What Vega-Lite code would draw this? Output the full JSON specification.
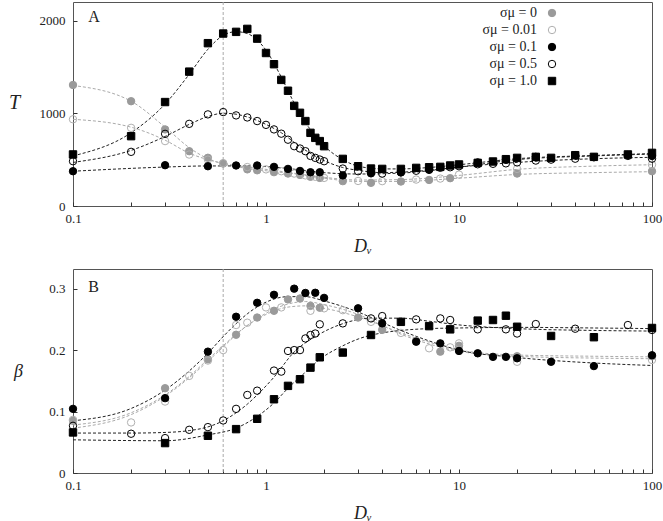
{
  "$schema": "https://vega.github.io/schema/vega-lite/v6.json",
  "background": "white",
  "padding": {"left": 7, "top": 1, "right": 2, "bottom": 4},
  "spacing": 12,
  "config": {
    "font": "Liberation Serif",
    "view": {"stroke": "#555555", "strokeWidth": 1},
    "axis": {
      "grid": false,
      "domain": false,
      "tickSize": -4,
      "tickColor": "#333333",
      "labelFont": "Liberation Serif",
      "labelFontSize": 13,
      "labelColor": "#222222",
      "titleFont": "Liberation Serif",
      "titleFontWeight": "normal",
      "titleFontStyle": "italic",
      "titleColor": "#222222"
    }
  },
  "resolve": {
    "scale": {"shape": "independent", "fill": "independent", "stroke": "independent", "color": "independent"},
    "legend": {"shape": "independent", "fill": "independent", "stroke": "independent", "color": "independent"}
  },
  "datasets": {
    "ptsA": [
      {"s": "σμ = 0", "D": 0.1, "v": 1305}, {"s": "σμ = 0", "D": 0.2, "v": 1130}, {"s": "σμ = 0", "D": 0.3, "v": 826},
      {"s": "σμ = 0", "D": 0.4, "v": 591}, {"s": "σμ = 0", "D": 0.5, "v": 520}, {"s": "σμ = 0", "D": 0.6, "v": 458},
      {"s": "σμ = 0", "D": 0.8, "v": 395}, {"s": "σμ = 0", "D": 0.9, "v": 385}, {"s": "σμ = 0", "D": 1.1, "v": 365},
      {"s": "σμ = 0", "D": 1.3, "v": 350}, {"s": "σμ = 0", "D": 1.5, "v": 335}, {"s": "σμ = 0", "D": 1.7, "v": 315},
      {"s": "σμ = 0", "D": 1.9, "v": 303}, {"s": "σμ = 0", "D": 2.5, "v": 268}, {"s": "σμ = 0", "D": 3.5, "v": 250},
      {"s": "σμ = 0", "D": 5, "v": 264}, {"s": "σμ = 0", "D": 7, "v": 281}, {"s": "σμ = 0", "D": 9, "v": 300},
      {"s": "σμ = 0", "D": 20, "v": 350}, {"s": "σμ = 0", "D": 100, "v": 375},

      {"s": "σμ = 0.01", "D": 0.1, "v": 935}, {"s": "σμ = 0.01", "D": 0.2, "v": 843}, {"s": "σμ = 0.01", "D": 0.3, "v": 700},
      {"s": "σμ = 0.01", "D": 0.4, "v": 555}, {"s": "σμ = 0.01", "D": 0.5, "v": 500}, {"s": "σμ = 0.01", "D": 0.6, "v": 462},
      {"s": "σμ = 0.01", "D": 0.8, "v": 420}, {"s": "σμ = 0.01", "D": 1.0, "v": 395}, {"s": "σμ = 0.01", "D": 1.2, "v": 375},
      {"s": "σμ = 0.01", "D": 1.4, "v": 350}, {"s": "σμ = 0.01", "D": 1.6, "v": 330}, {"s": "σμ = 0.01", "D": 1.8, "v": 315},
      {"s": "σμ = 0.01", "D": 2.0, "v": 303}, {"s": "σμ = 0.01", "D": 3, "v": 270}, {"s": "σμ = 0.01", "D": 4, "v": 268},
      {"s": "σμ = 0.01", "D": 6, "v": 285}, {"s": "σμ = 0.01", "D": 8, "v": 296}, {"s": "σμ = 0.01", "D": 10, "v": 339},
      {"s": "σμ = 0.01", "D": 20, "v": 400}, {"s": "σμ = 0.01", "D": 100, "v": 445},

      {"s": "σμ = 0.1", "D": 0.1, "v": 375}, {"s": "σμ = 0.1", "D": 0.3, "v": 440}, {"s": "σμ = 0.1", "D": 0.5, "v": 429},
      {"s": "σμ = 0.1", "D": 0.7, "v": 437}, {"s": "σμ = 0.1", "D": 0.9, "v": 437}, {"s": "σμ = 0.1", "D": 1.1, "v": 422},
      {"s": "σμ = 0.1", "D": 1.3, "v": 400}, {"s": "σμ = 0.1", "D": 1.5, "v": 378}, {"s": "σμ = 0.1", "D": 1.7, "v": 364},
      {"s": "σμ = 0.1", "D": 1.9, "v": 364}, {"s": "σμ = 0.1", "D": 2.5, "v": 330}, {"s": "σμ = 0.1", "D": 3.5, "v": 352},
      {"s": "σμ = 0.1", "D": 5, "v": 362}, {"s": "σμ = 0.1", "D": 7, "v": 390}, {"s": "σμ = 0.1", "D": 12.5, "v": 470},
      {"s": "σμ = 0.1", "D": 17.5, "v": 500}, {"s": "σμ = 0.1", "D": 25, "v": 530}, {"s": "σμ = 0.1", "D": 40, "v": 548},
      {"s": "σμ = 0.1", "D": 75, "v": 550}, {"s": "σμ = 0.1", "D": 100, "v": 540},

      {"s": "σμ = 0.5", "D": 0.1, "v": 483}, {"s": "σμ = 0.5", "D": 0.2, "v": 584}, {"s": "σμ = 0.5", "D": 0.3, "v": 778},
      {"s": "σμ = 0.5", "D": 0.4, "v": 886}, {"s": "σμ = 0.5", "D": 0.5, "v": 988}, {"s": "σμ = 0.5", "D": 0.6, "v": 1013},
      {"s": "σμ = 0.5", "D": 0.7, "v": 977}, {"s": "σμ = 0.5", "D": 0.8, "v": 955}, {"s": "σμ = 0.5", "D": 0.9, "v": 916},
      {"s": "σμ = 0.5", "D": 1.0, "v": 875}, {"s": "σμ = 0.5", "D": 1.1, "v": 826}, {"s": "σμ = 0.5", "D": 1.2, "v": 780},
      {"s": "σμ = 0.5", "D": 1.3, "v": 715}, {"s": "σμ = 0.5", "D": 1.4, "v": 645}, {"s": "σμ = 0.5", "D": 1.5, "v": 620},
      {"s": "σμ = 0.5", "D": 1.6, "v": 591}, {"s": "σμ = 0.5", "D": 1.7, "v": 540}, {"s": "σμ = 0.5", "D": 1.8, "v": 519},
      {"s": "σμ = 0.5", "D": 1.9, "v": 501}, {"s": "σμ = 0.5", "D": 2.0, "v": 483}, {"s": "σμ = 0.5", "D": 2.5, "v": 404},
      {"s": "σμ = 0.5", "D": 3.0, "v": 375}, {"s": "σμ = 0.5", "D": 3.5, "v": 362}, {"s": "σμ = 0.5", "D": 4, "v": 350},
      {"s": "σμ = 0.5", "D": 5, "v": 365}, {"s": "σμ = 0.5", "D": 6, "v": 380}, {"s": "σμ = 0.5", "D": 7, "v": 395},
      {"s": "σμ = 0.5", "D": 8, "v": 412}, {"s": "σμ = 0.5", "D": 9, "v": 418}, {"s": "σμ = 0.5", "D": 10, "v": 429},
      {"s": "σμ = 0.5", "D": 12.5, "v": 450}, {"s": "σμ = 0.5", "D": 15, "v": 455}, {"s": "σμ = 0.5", "D": 17.5, "v": 460},
      {"s": "σμ = 0.5", "D": 20, "v": 470}, {"s": "σμ = 0.5", "D": 25, "v": 490}, {"s": "σμ = 0.5", "D": 30, "v": 500},
      {"s": "σμ = 0.5", "D": 40, "v": 510}, {"s": "σμ = 0.5", "D": 50, "v": 525}, {"s": "σμ = 0.5", "D": 75, "v": 540},
      {"s": "σμ = 0.5", "D": 100, "v": 510},

      {"s": "σμ = 1.0", "D": 0.1, "v": 556}, {"s": "σμ = 1.0", "D": 0.2, "v": 753}, {"s": "σμ = 1.0", "D": 0.3, "v": 1121},
      {"s": "σμ = 1.0", "D": 0.4, "v": 1449}, {"s": "σμ = 1.0", "D": 0.5, "v": 1756}, {"s": "σμ = 1.0", "D": 0.6, "v": 1860},
      {"s": "σμ = 1.0", "D": 0.7, "v": 1878}, {"s": "σμ = 1.0", "D": 0.8, "v": 1910}, {"s": "σμ = 1.0", "D": 0.9, "v": 1805},
      {"s": "σμ = 1.0", "D": 1.0, "v": 1650}, {"s": "σμ = 1.0", "D": 1.1, "v": 1529}, {"s": "σμ = 1.0", "D": 1.2, "v": 1360},
      {"s": "σμ = 1.0", "D": 1.3, "v": 1243}, {"s": "σμ = 1.0", "D": 1.4, "v": 1080}, {"s": "σμ = 1.0", "D": 1.5, "v": 1005},
      {"s": "σμ = 1.0", "D": 1.6, "v": 916}, {"s": "σμ = 1.0", "D": 1.7, "v": 789}, {"s": "σμ = 1.0", "D": 1.8, "v": 735},
      {"s": "σμ = 1.0", "D": 1.9, "v": 700}, {"s": "σμ = 1.0", "D": 2.0, "v": 645}, {"s": "σμ = 1.0", "D": 2.5, "v": 508},
      {"s": "σμ = 1.0", "D": 3.0, "v": 429}, {"s": "σμ = 1.0", "D": 3.5, "v": 404}, {"s": "σμ = 1.0", "D": 4, "v": 400},
      {"s": "σμ = 1.0", "D": 5, "v": 400}, {"s": "σμ = 1.0", "D": 6, "v": 411}, {"s": "σμ = 1.0", "D": 7, "v": 418},
      {"s": "σμ = 1.0", "D": 8, "v": 422}, {"s": "σμ = 1.0", "D": 9, "v": 437}, {"s": "σμ = 1.0", "D": 10, "v": 448},
      {"s": "σμ = 1.0", "D": 12.5, "v": 465}, {"s": "σμ = 1.0", "D": 15, "v": 480}, {"s": "σμ = 1.0", "D": 17.5, "v": 505},
      {"s": "σμ = 1.0", "D": 20, "v": 519}, {"s": "σμ = 1.0", "D": 25, "v": 530}, {"s": "σμ = 1.0", "D": 30, "v": 519},
      {"s": "σμ = 1.0", "D": 40, "v": 548}, {"s": "σμ = 1.0", "D": 50, "v": 530}, {"s": "σμ = 1.0", "D": 75, "v": 556},
      {"s": "σμ = 1.0", "D": 100, "v": 573}
    ],
    "fitA": [
      {"c": "0", "D": 0.1, "v": 1300}, {"c": "0", "D": 0.2, "v": 1130}, {"c": "0", "D": 0.3, "v": 850}, {"c": "0", "D": 0.4, "v": 630},
      {"c": "0", "D": 0.5, "v": 510}, {"c": "0", "D": 0.6, "v": 455}, {"c": "0", "D": 0.8, "v": 405}, {"c": "0", "D": 1, "v": 380},
      {"c": "0", "D": 1.5, "v": 340}, {"c": "0", "D": 2, "v": 300}, {"c": "0", "D": 3, "v": 265}, {"c": "0", "D": 5, "v": 265},
      {"c": "0", "D": 10, "v": 300}, {"c": "0", "D": 20, "v": 340}, {"c": "0", "D": 50, "v": 360}, {"c": "0", "D": 100, "v": 370},

      {"c": "0.01", "D": 0.1, "v": 935}, {"c": "0.01", "D": 0.2, "v": 850}, {"c": "0.01", "D": 0.3, "v": 710}, {"c": "0.01", "D": 0.4, "v": 570},
      {"c": "0.01", "D": 0.5, "v": 500}, {"c": "0.01", "D": 0.6, "v": 460}, {"c": "0.01", "D": 0.8, "v": 420}, {"c": "0.01", "D": 1, "v": 395},
      {"c": "0.01", "D": 1.5, "v": 345}, {"c": "0.01", "D": 2, "v": 310}, {"c": "0.01", "D": 3, "v": 280}, {"c": "0.01", "D": 5, "v": 285},
      {"c": "0.01", "D": 10, "v": 330}, {"c": "0.01", "D": 20, "v": 395}, {"c": "0.01", "D": 50, "v": 430}, {"c": "0.01", "D": 100, "v": 445},

      {"c": "0.1", "D": 0.1, "v": 375}, {"c": "0.1", "D": 0.3, "v": 420}, {"c": "0.1", "D": 0.5, "v": 432}, {"c": "0.1", "D": 0.8, "v": 432},
      {"c": "0.1", "D": 1, "v": 425}, {"c": "0.1", "D": 1.5, "v": 390}, {"c": "0.1", "D": 2, "v": 360}, {"c": "0.1", "D": 3, "v": 345},
      {"c": "0.1", "D": 5, "v": 355}, {"c": "0.1", "D": 10, "v": 420}, {"c": "0.1", "D": 20, "v": 500}, {"c": "0.1", "D": 50, "v": 540},
      {"c": "0.1", "D": 100, "v": 560},

      {"c": "0.5", "D": 0.1, "v": 470}, {"c": "0.5", "D": 0.2, "v": 600}, {"c": "0.5", "D": 0.3, "v": 750}, {"c": "0.5", "D": 0.4, "v": 880},
      {"c": "0.5", "D": 0.5, "v": 965}, {"c": "0.5", "D": 0.6, "v": 1000}, {"c": "0.5", "D": 0.7, "v": 990}, {"c": "0.5", "D": 0.8, "v": 960},
      {"c": "0.5", "D": 1, "v": 880}, {"c": "0.5", "D": 1.2, "v": 790}, {"c": "0.5", "D": 1.5, "v": 640}, {"c": "0.5", "D": 2, "v": 490},
      {"c": "0.5", "D": 2.5, "v": 415}, {"c": "0.5", "D": 3, "v": 385}, {"c": "0.5", "D": 4, "v": 360}, {"c": "0.5", "D": 5, "v": 365},
      {"c": "0.5", "D": 7, "v": 385}, {"c": "0.5", "D": 10, "v": 420}, {"c": "0.5", "D": 20, "v": 470}, {"c": "0.5", "D": 50, "v": 510},
      {"c": "0.5", "D": 100, "v": 525},

      {"c": "1.0", "D": 0.1, "v": 540}, {"c": "1.0", "D": 0.2, "v": 790}, {"c": "1.0", "D": 0.3, "v": 1100}, {"c": "1.0", "D": 0.4, "v": 1420},
      {"c": "1.0", "D": 0.5, "v": 1690}, {"c": "1.0", "D": 0.6, "v": 1840}, {"c": "1.0", "D": 0.7, "v": 1880}, {"c": "1.0", "D": 0.8, "v": 1860},
      {"c": "1.0", "D": 0.9, "v": 1790}, {"c": "1.0", "D": 1, "v": 1680}, {"c": "1.0", "D": 1.2, "v": 1390}, {"c": "1.0", "D": 1.4, "v": 1110},
      {"c": "1.0", "D": 1.6, "v": 900}, {"c": "1.0", "D": 1.8, "v": 760}, {"c": "1.0", "D": 2, "v": 650}, {"c": "1.0", "D": 2.5, "v": 500},
      {"c": "1.0", "D": 3, "v": 430}, {"c": "1.0", "D": 4, "v": 400}, {"c": "1.0", "D": 5, "v": 400}, {"c": "1.0", "D": 7, "v": 415},
      {"c": "1.0", "D": 10, "v": 445}, {"c": "1.0", "D": 20, "v": 510}, {"c": "1.0", "D": 50, "v": 545}, {"c": "1.0", "D": 100, "v": 565}
    ],
    "ptsB": [
      {"s": "σμ = 0", "D": 0.1, "v": 0.085}, {"s": "σμ = 0", "D": 0.3, "v": 0.138}, {"s": "σμ = 0", "D": 0.5, "v": 0.185},
      {"s": "σμ = 0", "D": 0.7, "v": 0.225}, {"s": "σμ = 0", "D": 0.9, "v": 0.253}, {"s": "σμ = 0", "D": 1.1, "v": 0.264},
      {"s": "σμ = 0", "D": 1.3, "v": 0.2825}, {"s": "σμ = 0", "D": 1.5, "v": 0.284}, {"s": "σμ = 0", "D": 1.7, "v": 0.272},
      {"s": "σμ = 0", "D": 1.9, "v": 0.269}, {"s": "σμ = 0", "D": 3, "v": 0.253}, {"s": "σμ = 0", "D": 4, "v": 0.233},
      {"s": "σμ = 0", "D": 6, "v": 0.215}, {"s": "σμ = 0", "D": 8, "v": 0.1975}, {"s": "σμ = 0", "D": 10, "v": 0.207},
      {"s": "σμ = 0", "D": 20, "v": 0.19}, {"s": "σμ = 0", "D": 100, "v": 0.19},

      {"s": "σμ = 0.01", "D": 0.1, "v": 0.0866}, {"s": "σμ = 0.01", "D": 0.2, "v": 0.0823}, {"s": "σμ = 0.01", "D": 0.3, "v": 0.1163},
      {"s": "σμ = 0.01", "D": 0.4, "v": 0.158}, {"s": "σμ = 0.01", "D": 0.5, "v": 0.183}, {"s": "σμ = 0.01", "D": 0.6, "v": 0.2},
      {"s": "σμ = 0.01", "D": 0.7, "v": 0.2408}, {"s": "σμ = 0.01", "D": 0.8, "v": 0.2446}, {"s": "σμ = 0.01", "D": 1.0, "v": 0.2695},
      {"s": "σμ = 0.01", "D": 1.2, "v": 0.2695}, {"s": "σμ = 0.01", "D": 1.7, "v": 0.264}, {"s": "σμ = 0.01", "D": 2.0, "v": 0.268},
      {"s": "σμ = 0.01", "D": 2.5, "v": 0.265}, {"s": "σμ = 0.01", "D": 3.5, "v": 0.246}, {"s": "σμ = 0.01", "D": 5, "v": 0.228},
      {"s": "σμ = 0.01", "D": 7, "v": 0.203}, {"s": "σμ = 0.01", "D": 9, "v": 0.2045}, {"s": "σμ = 0.01", "D": 10, "v": 0.211},
      {"s": "σμ = 0.01", "D": 20, "v": 0.181}, {"s": "σμ = 0.01", "D": 100, "v": 0.184},

      {"s": "σμ = 0.1", "D": 0.1, "v": 0.1044}, {"s": "σμ = 0.1", "D": 0.3, "v": 0.1218}, {"s": "σμ = 0.1", "D": 0.5, "v": 0.1975},
      {"s": "σμ = 0.1", "D": 0.7, "v": 0.2543}, {"s": "σμ = 0.1", "D": 0.9, "v": 0.277}, {"s": "σμ = 0.1", "D": 1.1, "v": 0.29},
      {"s": "σμ = 0.1", "D": 1.4, "v": 0.3}, {"s": "σμ = 0.1", "D": 1.6, "v": 0.293}, {"s": "σμ = 0.1", "D": 1.8, "v": 0.2933},
      {"s": "σμ = 0.1", "D": 2.0, "v": 0.285}, {"s": "σμ = 0.1", "D": 3.0, "v": 0.268}, {"s": "σμ = 0.1", "D": 4, "v": 0.2435},
      {"s": "σμ = 0.1", "D": 6, "v": 0.2137}, {"s": "σμ = 0.1", "D": 8, "v": 0.211}, {"s": "σμ = 0.1", "D": 10, "v": 0.1986},
      {"s": "σμ = 0.1", "D": 12.5, "v": 0.1948}, {"s": "σμ = 0.1", "D": 15, "v": 0.189}, {"s": "σμ = 0.1", "D": 17.5, "v": 0.189},
      {"s": "σμ = 0.1", "D": 20, "v": 0.1867}, {"s": "σμ = 0.1", "D": 30, "v": 0.181}, {"s": "σμ = 0.1", "D": 50, "v": 0.174},
      {"s": "σμ = 0.1", "D": 100, "v": 0.1916},

      {"s": "σμ = 0.5", "D": 0.1, "v": 0.0768}, {"s": "σμ = 0.5", "D": 0.2, "v": 0.0639}, {"s": "σμ = 0.5", "D": 0.3, "v": 0.0568},
      {"s": "σμ = 0.5", "D": 0.4, "v": 0.0703}, {"s": "σμ = 0.5", "D": 0.5, "v": 0.0747}, {"s": "σμ = 0.5", "D": 0.6, "v": 0.0855},
      {"s": "σμ = 0.5", "D": 0.7, "v": 0.1044}, {"s": "σμ = 0.5", "D": 0.8, "v": 0.127}, {"s": "σμ = 0.5", "D": 0.9, "v": 0.134},
      {"s": "σμ = 0.5", "D": 1.1, "v": 0.1667}, {"s": "σμ = 0.5", "D": 1.2, "v": 0.165}, {"s": "σμ = 0.5", "D": 1.3, "v": 0.1986},
      {"s": "σμ = 0.5", "D": 1.4, "v": 0.2}, {"s": "σμ = 0.5", "D": 1.5, "v": 0.2}, {"s": "σμ = 0.5", "D": 1.6, "v": 0.219},
      {"s": "σμ = 0.5", "D": 1.7, "v": 0.2246}, {"s": "σμ = 0.5", "D": 1.8, "v": 0.227}, {"s": "σμ = 0.5", "D": 1.9, "v": 0.242},
      {"s": "σμ = 0.5", "D": 2.5, "v": 0.2435}, {"s": "σμ = 0.5", "D": 3.5, "v": 0.2516}, {"s": "σμ = 0.5", "D": 4, "v": 0.2554},
      {"s": "σμ = 0.5", "D": 6, "v": 0.25}, {"s": "σμ = 0.5", "D": 8, "v": 0.2516}, {"s": "σμ = 0.5", "D": 9, "v": 0.249},
      {"s": "σμ = 0.5", "D": 12.5, "v": 0.2338}, {"s": "σμ = 0.5", "D": 17.5, "v": 0.2338}, {"s": "σμ = 0.5", "D": 20, "v": 0.227},
      {"s": "σμ = 0.5", "D": 25, "v": 0.2424}, {"s": "σμ = 0.5", "D": 40, "v": 0.2348}, {"s": "σμ = 0.5", "D": 75, "v": 0.2408},
      {"s": "σμ = 0.5", "D": 100, "v": 0.2327},

      {"s": "σμ = 1.0", "D": 0.1, "v": 0.066}, {"s": "σμ = 1.0", "D": 0.3, "v": 0.0487}, {"s": "σμ = 1.0", "D": 0.5, "v": 0.0606},
      {"s": "σμ = 1.0", "D": 0.7, "v": 0.0714}, {"s": "σμ = 1.0", "D": 0.9, "v": 0.0882}, {"s": "σμ = 1.0", "D": 1.1, "v": 0.12},
      {"s": "σμ = 1.0", "D": 1.3, "v": 0.1418}, {"s": "σμ = 1.0", "D": 1.5, "v": 0.1526}, {"s": "σμ = 1.0", "D": 1.7, "v": 0.1715},
      {"s": "σμ = 1.0", "D": 1.9, "v": 0.1883}, {"s": "σμ = 1.0", "D": 2.5, "v": 0.196}, {"s": "σμ = 1.0", "D": 3.5, "v": 0.2246},
      {"s": "σμ = 1.0", "D": 5, "v": 0.246}, {"s": "σμ = 1.0", "D": 7, "v": 0.239}, {"s": "σμ = 1.0", "D": 9, "v": 0.2338},
      {"s": "σμ = 1.0", "D": 12.5, "v": 0.248}, {"s": "σμ = 1.0", "D": 15, "v": 0.249}, {"s": "σμ = 1.0", "D": 17.5, "v": 0.256},
      {"s": "σμ = 1.0", "D": 20, "v": 0.238}, {"s": "σμ = 1.0", "D": 30, "v": 0.223}, {"s": "σμ = 1.0", "D": 50, "v": 0.221},
      {"s": "σμ = 1.0", "D": 100, "v": 0.236}
    ],
    "fitB": [
      {"c": "0", "D": 0.1, "v": 0.073}, {"c": "0", "D": 0.2, "v": 0.095}, {"c": "0", "D": 0.3, "v": 0.125}, {"c": "0", "D": 0.4, "v": 0.155},
      {"c": "0", "D": 0.5, "v": 0.182}, {"c": "0", "D": 0.6, "v": 0.205}, {"c": "0", "D": 0.7, "v": 0.225}, {"c": "0", "D": 0.8, "v": 0.24},
      {"c": "0", "D": 1, "v": 0.26}, {"c": "0", "D": 1.3, "v": 0.275}, {"c": "0", "D": 1.6, "v": 0.279}, {"c": "0", "D": 2, "v": 0.274},
      {"c": "0", "D": 3, "v": 0.258}, {"c": "0", "D": 4, "v": 0.24}, {"c": "0", "D": 5, "v": 0.226}, {"c": "0", "D": 7, "v": 0.21},
      {"c": "0", "D": 10, "v": 0.198}, {"c": "0", "D": 20, "v": 0.19}, {"c": "0", "D": 50, "v": 0.187}, {"c": "0", "D": 100, "v": 0.186},

      {"c": "0.01", "D": 0.1, "v": 0.078}, {"c": "0.01", "D": 0.2, "v": 0.098}, {"c": "0.01", "D": 0.3, "v": 0.127}, {"c": "0.01", "D": 0.4, "v": 0.157},
      {"c": "0.01", "D": 0.5, "v": 0.185}, {"c": "0.01", "D": 0.6, "v": 0.207}, {"c": "0.01", "D": 0.7, "v": 0.226}, {"c": "0.01", "D": 0.8, "v": 0.24},
      {"c": "0.01", "D": 1, "v": 0.258}, {"c": "0.01", "D": 1.3, "v": 0.27}, {"c": "0.01", "D": 1.6, "v": 0.272}, {"c": "0.01", "D": 2, "v": 0.268},
      {"c": "0.01", "D": 3, "v": 0.254}, {"c": "0.01", "D": 4, "v": 0.24}, {"c": "0.01", "D": 5, "v": 0.228}, {"c": "0.01", "D": 7, "v": 0.213},
      {"c": "0.01", "D": 10, "v": 0.2}, {"c": "0.01", "D": 20, "v": 0.192}, {"c": "0.01", "D": 50, "v": 0.19}, {"c": "0.01", "D": 100, "v": 0.189},

      {"c": "0.1", "D": 0.1, "v": 0.085}, {"c": "0.1", "D": 0.2, "v": 0.105}, {"c": "0.1", "D": 0.3, "v": 0.135}, {"c": "0.1", "D": 0.4, "v": 0.166},
      {"c": "0.1", "D": 0.5, "v": 0.195}, {"c": "0.1", "D": 0.6, "v": 0.222}, {"c": "0.1", "D": 0.7, "v": 0.243}, {"c": "0.1", "D": 0.8, "v": 0.259},
      {"c": "0.1", "D": 1, "v": 0.278}, {"c": "0.1", "D": 1.3, "v": 0.287}, {"c": "0.1", "D": 1.6, "v": 0.287}, {"c": "0.1", "D": 2, "v": 0.28},
      {"c": "0.1", "D": 3, "v": 0.262}, {"c": "0.1", "D": 4, "v": 0.245}, {"c": "0.1", "D": 5, "v": 0.232}, {"c": "0.1", "D": 7, "v": 0.215},
      {"c": "0.1", "D": 10, "v": 0.2}, {"c": "0.1", "D": 20, "v": 0.188}, {"c": "0.1", "D": 50, "v": 0.179}, {"c": "0.1", "D": 100, "v": 0.175},

      {"c": "0.5", "D": 0.1, "v": 0.065}, {"c": "0.5", "D": 0.2, "v": 0.065}, {"c": "0.5", "D": 0.3, "v": 0.066}, {"c": "0.5", "D": 0.4, "v": 0.069},
      {"c": "0.5", "D": 0.5, "v": 0.075}, {"c": "0.5", "D": 0.6, "v": 0.085}, {"c": "0.5", "D": 0.7, "v": 0.098}, {"c": "0.5", "D": 0.8, "v": 0.112},
      {"c": "0.5", "D": 0.9, "v": 0.127}, {"c": "0.5", "D": 1.1, "v": 0.156}, {"c": "0.5", "D": 1.4, "v": 0.197}, {"c": "0.5", "D": 1.8, "v": 0.222},
      {"c": "0.5", "D": 2.5, "v": 0.243}, {"c": "0.5", "D": 3.5, "v": 0.252}, {"c": "0.5", "D": 5, "v": 0.252}, {"c": "0.5", "D": 7, "v": 0.247},
      {"c": "0.5", "D": 10, "v": 0.241}, {"c": "0.5", "D": 20, "v": 0.235}, {"c": "0.5", "D": 50, "v": 0.232}, {"c": "0.5", "D": 100, "v": 0.231},

      {"c": "1.0", "D": 0.1, "v": 0.054}, {"c": "1.0", "D": 0.3, "v": 0.0525}, {"c": "1.0", "D": 0.5, "v": 0.062}, {"c": "1.0", "D": 0.7, "v": 0.073},
      {"c": "1.0", "D": 0.9, "v": 0.092}, {"c": "1.0", "D": 1.1, "v": 0.114}, {"c": "1.0", "D": 1.3, "v": 0.138}, {"c": "1.0", "D": 1.6, "v": 0.164},
      {"c": "1.0", "D": 1.9, "v": 0.185}, {"c": "1.0", "D": 2.5, "v": 0.207}, {"c": "1.0", "D": 3, "v": 0.218}, {"c": "1.0", "D": 4, "v": 0.228},
      {"c": "1.0", "D": 5, "v": 0.232}, {"c": "1.0", "D": 7, "v": 0.235}, {"c": "1.0", "D": 10, "v": 0.236}, {"c": "1.0", "D": 20, "v": 0.237},
      {"c": "1.0", "D": 50, "v": 0.236}, {"c": "1.0", "D": 100, "v": 0.235}
    ]
  },
  "vconcat": [
    {
      "width": 579,
      "height": 204,
      "layer": [
        {
          "data": {"values": [{}]},
          "mark": {"type": "rule", "color": "#aaaaaa", "strokeDash": [3, 2], "strokeWidth": 1},
          "encoding": {"x": {"datum": 0.6, "type": "quantitative", "scale": {"type": "log", "domain": [0.1, 100], "nice": false}}}
        },
        {
          "data": {"name": "fitA"},
          "mark": {"type": "line", "strokeDash": [3, 2], "strokeWidth": 1, "interpolate": "monotone"},
          "encoding": {
            "x": {
              "field": "D", "type": "quantitative",
              "scale": {"type": "log", "domain": [0.1, 100], "nice": false},
              "axis": {
                "values": [0.1, 0.2, 0.3, 0.4, 0.5, 0.6, 0.7, 0.8, 0.9, 1, 2, 3, 4, 5, 6, 7, 8, 9, 10, 20, 30, 40, 50, 60, 70, 80, 90, 100],
                "labelExpr": "datum.value == 0.1 ? '0.1' : datum.value == 1 ? '1' : datum.value == 10 ? '10' : datum.value == 100 ? '100' : ''",
                "title": "Dᵥ", "titleFontSize": 18, "titlePadding": 12, "labelPadding": 10, "labelFlush": false
              }
            },
            "y": {
              "field": "v", "type": "quantitative",
              "scale": {"domain": [0, 2200], "nice": false},
              "axis": {
                "values": [0, 1000, 2000], "format": "d",
                "title": "T", "titleAngle": 0, "titleFontSize": 20, "titleX": -59, "titleY": 100,
                "titleAlign": "center", "titleBaseline": "middle", "labelPadding": 12
              }
            },
            "color": {
              "field": "c", "type": "nominal", "legend": null,
              "scale": {"domain": ["0", "0.01", "0.1", "0.5", "1.0"], "range": ["#aaaaaa", "#aaaaaa", "#222222", "#222222", "#222222"]}
            },
            "order": {"field": "D", "type": "quantitative"}
          }
        },
        {
          "data": {"name": "ptsA"},
          "mark": {"type": "point", "opacity": 1, "strokeWidth": 1, "size": 55},
          "encoding": {
            "x": {"field": "D", "type": "quantitative", "scale": {"type": "log", "domain": [0.1, 100], "nice": false}},
            "y": {"field": "v", "type": "quantitative", "scale": {"domain": [0, 2200], "nice": false}},
            "shape": {
              "field": "s", "type": "nominal",
              "scale": {"domain": ["σμ = 0", "σμ = 0.01", "σμ = 0.1", "σμ = 0.5", "σμ = 1.0"], "range": ["circle", "circle", "circle", "circle", "square"]},
              "legend": {"orient": "none", "legendX": 472, "legendY": 4, "title": null, "labelAlign": "right", "labelOffset": -22, "labelFontSize": 14, "labelFont": "Liberation Serif", "labelColor": "#222222", "rowPadding": 3, "symbolSize": 55, "symbolStrokeWidth": 1}
            },
            "fill": {
              "field": "s", "type": "nominal",
              "scale": {"domain": ["σμ = 0", "σμ = 0.01", "σμ = 0.1", "σμ = 0.5", "σμ = 1.0"], "range": ["#9a9a9a", "transparent", "#000000", "transparent", "#000000"]},
              "legend": {"orient": "none", "legendX": 472, "legendY": 4, "title": null, "labelAlign": "right", "labelOffset": -22, "labelFontSize": 14, "labelFont": "Liberation Serif", "labelColor": "#222222", "rowPadding": 3, "symbolSize": 55, "symbolStrokeWidth": 1}
            },
            "stroke": {
              "field": "s", "type": "nominal",
              "scale": {"domain": ["σμ = 0", "σμ = 0.01", "σμ = 0.1", "σμ = 0.5", "σμ = 1.0"], "range": ["#9a9a9a", "#b0b0b0", "#000000", "#000000", "#000000"]},
              "legend": {"orient": "none", "legendX": 472, "legendY": 4, "title": null, "labelAlign": "right", "labelOffset": -22, "labelFontSize": 14, "labelFont": "Liberation Serif", "labelColor": "#222222", "rowPadding": 3, "symbolSize": 55, "symbolStrokeWidth": 1}
            }
          }
        },
        {
          "data": {"values": [{}]},
          "mark": {"type": "text", "text": "A", "align": "left", "baseline": "middle", "fontSize": 16, "font": "Liberation Serif", "color": "#222222"},
          "encoding": {
            "x": {"datum": 0.12, "type": "quantitative"},
            "y": {"datum": 2040, "type": "quantitative"}
          }
        }
      ]
    },
    {
      "width": 579,
      "height": 204,
      "layer": [
        {
          "data": {"values": [{}]},
          "mark": {"type": "rule", "color": "#aaaaaa", "strokeDash": [3, 2], "strokeWidth": 1},
          "encoding": {"x": {"datum": 0.6, "type": "quantitative", "scale": {"type": "log", "domain": [0.1, 100], "nice": false}}}
        },
        {
          "data": {"name": "fitB"},
          "mark": {"type": "line", "strokeDash": [3, 2], "strokeWidth": 1, "interpolate": "monotone"},
          "encoding": {
            "x": {
              "field": "D", "type": "quantitative",
              "scale": {"type": "log", "domain": [0.1, 100], "nice": false},
              "axis": {
                "values": [0.1, 0.2, 0.3, 0.4, 0.5, 0.6, 0.7, 0.8, 0.9, 1, 2, 3, 4, 5, 6, 7, 8, 9, 10, 20, 30, 40, 50, 60, 70, 80, 90, 100],
                "labelExpr": "datum.value == 0.1 ? '0.1' : datum.value == 1 ? '1' : datum.value == 10 ? '10' : datum.value == 100 ? '100' : ''",
                "title": "Dᵥ", "titleFontSize": 18, "titlePadding": 12, "labelPadding": 10, "labelFlush": false
              }
            },
            "y": {
              "field": "v", "type": "quantitative",
              "scale": {"domain": [0, 0.332], "nice": false},
              "axis": {
                "values": [0, 0.1, 0.2, 0.3], "format": ".1~f",
                "title": "β", "titleAngle": 0, "titleFontSize": 18, "titleX": -55, "titleY": 102,
                "titleAlign": "center", "titleBaseline": "middle", "labelPadding": 12
              }
            },
            "color": {
              "field": "c", "type": "nominal", "legend": null,
              "scale": {"domain": ["0", "0.01", "0.1", "0.5", "1.0"], "range": ["#aaaaaa", "#aaaaaa", "#222222", "#222222", "#222222"]}
            },
            "order": {"field": "D", "type": "quantitative"}
          }
        },
        {
          "data": {"name": "ptsB"},
          "mark": {"type": "point", "opacity": 1, "strokeWidth": 1, "size": 55},
          "encoding": {
            "x": {"field": "D", "type": "quantitative", "scale": {"type": "log", "domain": [0.1, 100], "nice": false}},
            "y": {"field": "v", "type": "quantitative", "scale": {"domain": [0, 0.332], "nice": false}},
            "shape": {
              "field": "s", "type": "nominal", "legend": null,
              "scale": {"domain": ["σμ = 0", "σμ = 0.01", "σμ = 0.1", "σμ = 0.5", "σμ = 1.0"], "range": ["circle", "circle", "circle", "circle", "square"]}
            },
            "fill": {
              "field": "s", "type": "nominal", "legend": null,
              "scale": {"domain": ["σμ = 0", "σμ = 0.01", "σμ = 0.1", "σμ = 0.5", "σμ = 1.0"], "range": ["#9a9a9a", "transparent", "#000000", "transparent", "#000000"]}
            },
            "stroke": {
              "field": "s", "type": "nominal", "legend": null,
              "scale": {"domain": ["σμ = 0", "σμ = 0.01", "σμ = 0.1", "σμ = 0.5", "σμ = 1.0"], "range": ["#9a9a9a", "#b0b0b0", "#000000", "#000000", "#000000"]}
            }
          }
        },
        {
          "data": {"values": [{}]},
          "mark": {"type": "text", "text": "B", "align": "left", "baseline": "middle", "fontSize": 16, "font": "Liberation Serif", "color": "#222222"},
          "encoding": {
            "x": {"datum": 0.12, "type": "quantitative"},
            "y": {"datum": 0.303, "type": "quantitative"}
          }
        }
      ]
    }
  ]
}
